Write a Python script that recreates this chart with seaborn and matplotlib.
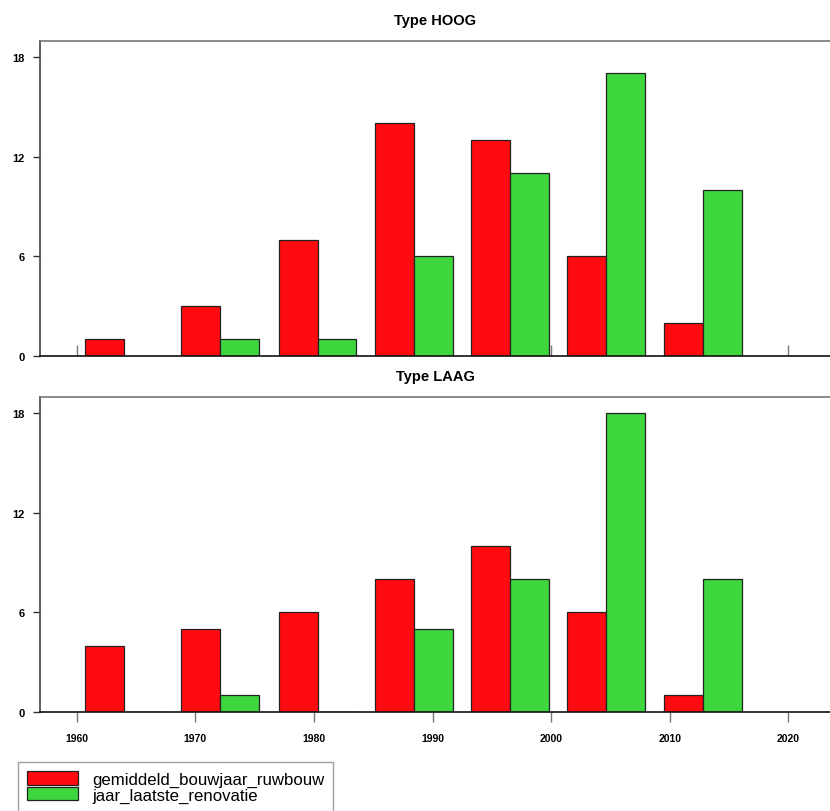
import matplotlib
matplotlib.use("Agg")
import matplotlib.pyplot as plt
import pandas as pd
import seaborn as sns

# Histogram bins (bin centres, in years) and counts per type
bin_centers = [1964.0, 1972.1, 1980.3, 1988.4, 1996.5, 2004.6, 2012.8]
hoog_bouwjaar = [1, 3, 7, 14, 13, 6, 2]
hoog_renovatie = [0, 1, 1, 6, 11, 17, 10]
laag_bouwjaar = [4, 5, 6, 8, 10, 6, 1]
laag_renovatie = [0, 1, 0, 5, 8, 18, 8]

series = ["gemiddeld_bouwjaar_ruwbouw", "jaar_laatste_renovatie"]
panel_titles = ["Type HOOG", "Type LAAG"]
x_ticks = [1960, 1970, 1980, 1990, 2000, 2010, 2020]
y_ticks = [0, 6, 12, 18]

colors = {series[0]: "#FF0A0F", series[1]: "#3DD63D"}


def make_frame(bouwjaar, renovatie):
    rows = []
    for c, a, b in zip(bin_centers, bouwjaar, renovatie):
        rows.append({"jaar": c, "aantal": a, "reeks": series[0]})
        rows.append({"jaar": c, "aantal": b, "reeks": series[1]})
    return pd.DataFrame(rows)


sns.set_style("white")
plt.rcParams["font.family"] = ["Liberation Sans", "DejaVu Sans"]
plt.rcParams["text.color"] = "black"
plt.rcParams["xtick.color"] = "black"
plt.rcParams["ytick.color"] = "black"
plt.rcParams["axes.labelcolor"] = "black"

fig = plt.figure(figsize=(8.3, 8.12), dpi=100)
W, H = 830, 812


def add_axes_px(left, top, right, bottom):
    return fig.add_axes([left / W, 1 - bottom / H, (right - left) / W, (bottom - top) / H])


ax_top = add_axes_px(40, 42, 830, 357)
ax_bot = add_axes_px(40, 398, 830, 713)

frames = [make_frame(hoog_bouwjaar, hoog_renovatie), make_frame(laag_bouwjaar, laag_renovatie)]

for ax, df, title in zip([ax_top, ax_bot], frames, panel_titles):
    sns.barplot(data=df, x="jaar", y="aantal", hue="reeks", hue_order=series,
                palette=colors, saturation=1, native_scale=True, width=0.81,
                errorbar=None, edgecolor="#222222", linewidth=0.9, ax=ax)
    ax.set_xlim(1956.9, 2023.5)
    ax.set_ylim(0, 18.95)
    ax.set_xlabel("")
    ax.set_ylabel("")
    ax.set_title(title, fontsize=10.5, fontweight="bold", pad=12, color="black")
    ax.set_yticks(y_ticks)
    ax.set_yticklabels([str(v) for v in y_ticks], fontsize=8, fontweight="bold")
    ax.tick_params(axis="y", direction="out", length=5, width=1, color="#333333",
                   labelcolor="black", pad=6, left=True)
    ax.set_xticks(x_ticks)
    for side in ["top", "left", "bottom"]:
        ax.spines[side].set_visible(True)
    ax.spines["right"].set_visible(False)
    ax.spines["top"].set_color("#777777")
    ax.spines["top"].set_linewidth(1.2)
    ax.spines["left"].set_color("#444444")
    ax.spines["left"].set_linewidth(1.2)
    ax.spines["bottom"].set_color("#111111")
    ax.spines["bottom"].set_linewidth(1.2)
    if ax.get_legend() is not None:
        handles, labels = ax.get_legend_handles_labels()
        ax.get_legend().remove()

# top panel: short inward ticks, no labels
ax_top.tick_params(axis="x", direction="in", length=8, width=1, color="#777777",
                   bottom=True, labelbottom=False)
# bottom panel: outward ticks with year labels
ax_bot.tick_params(axis="x", direction="out", length=7, width=1, color="#777777",
                   labelcolor="black", bottom=True, labelsize=7.5, pad=8)
for lbl in ax_bot.get_xticklabels():
    lbl.set_fontweight("bold")

leg = fig.legend(handles, labels, loc="upper left",
                 bbox_to_anchor=(18 / W, 1 - 763 / H), bbox_transform=fig.transFigure,
                 fontsize=12.1, frameon=True, fancybox=False, edgecolor="#888888",
                 handlelength=3.0, handleheight=0.85, labelspacing=0.0,
                 borderpad=0.55, handletextpad=0.85, borderaxespad=0)
leg.get_frame().set_linewidth(1.0)
for t in leg.get_texts():
    t.set_color("black")

fig.savefig("out.png", dpi=100)
